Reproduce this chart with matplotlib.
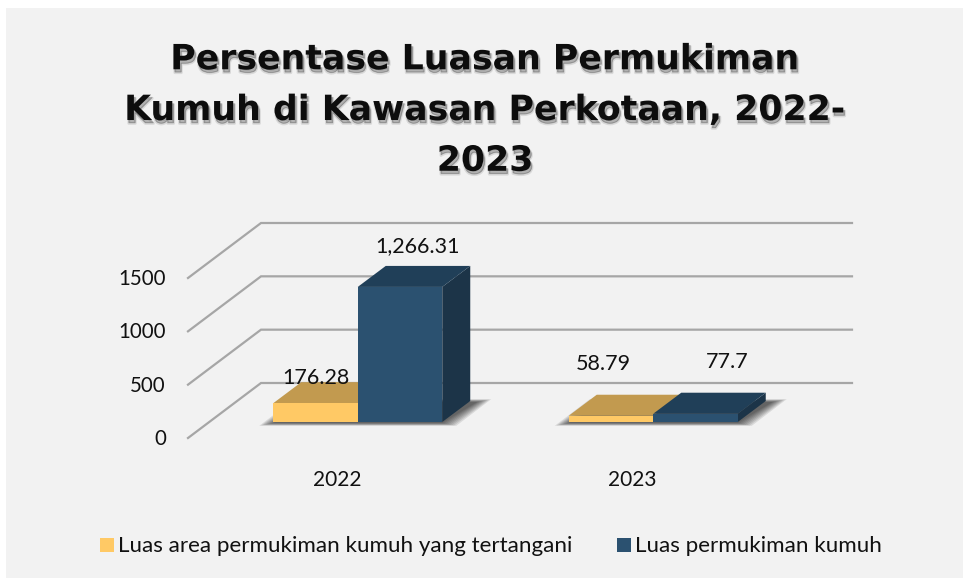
import matplotlib

matplotlib.use("Agg")
import matplotlib.patheffects as pe
from matplotlib import pyplot as plt
from matplotlib.patches import Polygon, Rectangle

years = ["2022", "2023"]
tertangani = [176.28, 58.79]
kumuh = [1266.31, 77.7]
tertangani_labels = ["176.28", "58.79"]
kumuh_labels = ["1,266.31", "77.7"]
yticks = [0, 500, 1000, 1500]
title = "Persentase Luasan Permukiman\nKumuh di Kawasan Perkotaan, 2022-\n2023"
legend_names = ["Luas area permukiman kumuh yang tertangani", "Luas permukiman kumuh"]

W, H = 963, 580
YELLOW, YELLOW_TOP = "#ffc965", "#c29a4f"
BLUE, BLUE_TOP, BLUE_SIDE = "#2b5170", "#203f58", "#1c3448"
GRID = "#a6a6a6"
FONT = "Lato"

fig = plt.figure(figsize=(W / 100, H / 100), dpi=100, facecolor="white")
fig.add_artist(Rectangle((6 / W, (H - 578) / H), (W - 6) / W, (578 - 8) / H, transform=fig.transFigure,
                         facecolor="#f2f2f2", edgecolor="none", zorder=-1))

# front plane of the 3D box, the rest is offset from it in data units
ax = fig.add_axes([188 / W, (H - 438) / H, 591 / W, 160 / H])
ax.set_xlim(-0.5, 1.5)
ax.set_ylim(0, 1500)
ax.axis("off")

px_x = 2 / 591
px_y = 1500 / 160
wall_dx, wall_dy = 73 * px_x, 55 * px_y
bar_x0, bar_y0 = 22 * px_x, 16 * px_y
bar_dx, bar_dy = 28 * px_x, 21 * px_y
bar_w = 84.5 * px_x


def poly(points, **kwargs):
    kwargs.setdefault("edgecolor", "none")
    ax.add_patch(Polygon(points, closed=True, clip_on=False, **kwargs))


# gridlines: floor edge and back wall
for v in yticks:
    ax.plot([-0.5, -0.5 + wall_dx, 1.5 + wall_dx], [v, v + wall_dy, v + wall_dy],
            color=GRID, lw=1.6, clip_on=False, zorder=1, solid_joinstyle="miter")
    ax.text(-0.5 - 22 * px_x, v - 1 * px_y, str(v), ha="right", va="center", fontsize=14.8,
            family=FONT, color="#111111")


def shadow(x0, x1):
    # soft floor shadow, built from stacked transparent shapes
    base = bar_y0 - 1 * px_y
    for grow in range(14, -1, -2):
        g = grow * px_x
        h = grow * 0.2 * px_y
        poly([(x0 - g, base - h), (x1 + g, base - h),
              (x1 + bar_dx + 7 * px_x + g, base + bar_dy + h),
              (x0 + bar_dx + 7 * px_x - g, base + bar_dy + h)],
             facecolor="black", alpha=0.1, zorder=2)


def box(x0, value, front, top, side=None):
    x1 = x0 + bar_w
    y0, y1 = bar_y0, bar_y0 + value
    if side:
        poly([(x1, y0), (x1 + bar_dx, y0 + bar_dy), (x1 + bar_dx, y1 + bar_dy), (x1, y1)],
             facecolor=side, zorder=3)
    poly([(x0, y1), (x1, y1), (x1 + bar_dx, y1 + bar_dy), (x0 + bar_dx, y1 + bar_dy)],
         facecolor=top, zorder=3)
    ax.bar(x0, value, width=bar_w, bottom=y0, align="edge", color=front, clip_on=False, zorder=4)


for i in range(len(years)):
    left = i + bar_x0 - bar_w
    shadow(left, i + bar_x0 + bar_w)
    box(left, tertangani[i], YELLOW, YELLOW_TOP)
    box(i + bar_x0, kumuh[i], BLUE, BLUE_TOP, BLUE_SIDE)
    ax.text(i + 1 * px_x, -390, years[i], ha="center", va="center", fontsize=15, family=FONT, color="#111111")

# value labels
ax.text(0 + bar_x0 - bar_w + 43 * px_x, 565, tertangani_labels[0], ha="center", va="center",
        fontsize=15.5, family=FONT, color="#111111", zorder=6)
ax.text(0 + bar_x0 + 17 * px_x + bar_w / 2 + 1 * px_x, 1795, kumuh_labels[0], ha="center", va="center",
        fontsize=15.5, family=FONT, color="#111111", zorder=6)
ax.text(1 + bar_x0 - bar_w + 35 * px_x, 690, tertangani_labels[1], ha="center", va="center",
        fontsize=15.5, family=FONT, color="#111111", zorder=6)
ax.text(1 + bar_x0 + 74 * px_x, 715, kumuh_labels[1], ha="center", va="center",
        fontsize=15.5, family=FONT, color="#111111", zorder=6)

fig.text(485 / W, 1 - 110 / H, title, ha="center", va="center", fontsize=25, family="DejaVu Sans",
         weight="bold", color="#0d0d0d", linespacing=1.62,
         path_effects=[pe.Stroke(linewidth=2, foreground="black", alpha=0.1, offset=(1, -2.5)),
                       pe.Stroke(linewidth=0.5, foreground="black", alpha=0.2, offset=(1, -2)),
                       pe.Normal()])

# legend
fig.add_artist(Rectangle((100 / W, 1 - 552 / H), 14 / W, 14 / H, transform=fig.transFigure,
                         facecolor=YELLOW, edgecolor="none"))
fig.add_artist(Rectangle((617 / W, 1 - 552 / H), 14 / W, 14 / H, transform=fig.transFigure,
                         facecolor=BLUE, edgecolor="none"))
fig.text(118 / W, 1 - 546 / H, legend_names[0], ha="left", va="center", fontsize=16.1, family=FONT, color="#111111")
fig.text(635 / W, 1 - 546 / H, legend_names[1], ha="left", va="center", fontsize=16.1, family=FONT, color="#111111")

fig.savefig("out.png", dpi=100, facecolor="white")
